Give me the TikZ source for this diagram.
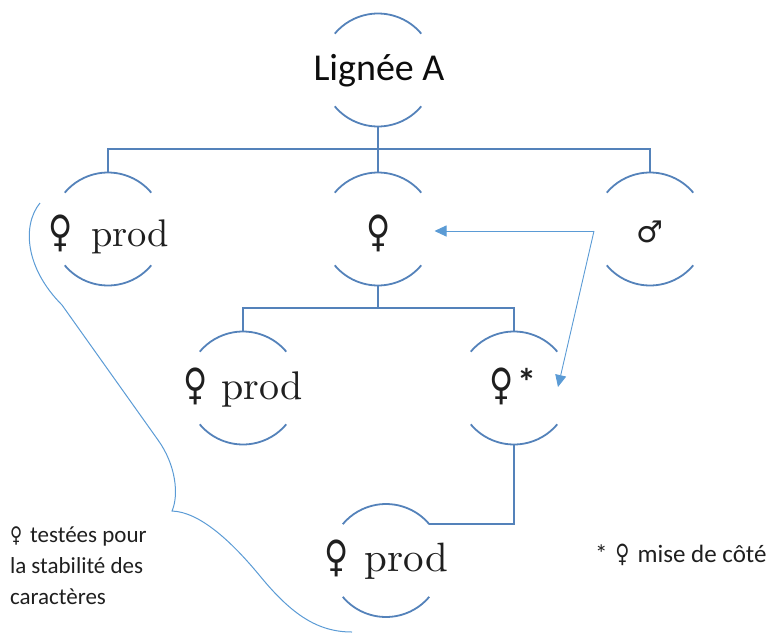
\documentclass[tikz,border=0pt]{standalone}
\usepackage{fontspec}
\newfontfamily\calfont{Carlito}
\newfontfamily\symfont{DejaVu Sans}
\newfontfamily\lmten{lmroman10-regular.otf}
\usetikzlibrary{arrows.meta,calc}
\definecolor{nodeblue}{RGB}{84,130,186}
\definecolor{arrblue}{RGB}{91,155,213}
\newcommand\hubarcs[1]{%
  \draw[arcs] (#1.40) arc[start angle=40,end angle=140,radius=56.5pt];
  \draw[arcs] (#1.220) arc[start angle=220,end angle=320,radius=56.5pt];}
\newcommand\fem[1]{\scalebox{0.92}[1.2]{\symfont\fontsize{#1}{#1}\selectfont ♀}}
\begin{document}
\begin{tikzpicture}[x=1pt,y=1pt,
  hub/.style={circle,draw=none,minimum size=113pt,inner sep=0pt,outer sep=0pt},
  arcs/.style={draw=nodeblue,line width=1.8pt},
  link/.style={draw=nodeblue,line width=1.8pt},
  lbl/.style={inner sep=0pt,outer sep=0pt,text=black!88},
  ptr/.style={draw=arrblue,line width=0.9pt,-{Triangle[length=12pt,width=11pt,fill=arrblue]}},
  bracestyle/.style={draw=arrblue,line width=1pt}
]
\useasboundingbox (0,0) rectangle (773,-634);

% hubs
\node[hub] (A)  at (378,-70)  {};
\node[hub] (B1) at (108,-229) {};
\node[hub] (B2) at (378,-229) {};
\node[hub] (B3) at (650,-229) {};
\node[hub] (C1) at (243,-388) {};
\node[hub] (C2) at (514,-388) {};
\node[hub] (D1) at (386,-560.5) {};
\hubarcs{A}\hubarcs{B1}\hubarcs{B2}\hubarcs{B3}\hubarcs{C1}\hubarcs{C2}\hubarcs{D1}

% labels
\node[lbl,anchor=base,text=black!95,font=\calfont\fontsize{38}{40}\selectfont] (At) at ($(A)+(1,-10)$) {Lignée A};
\node[lbl,anchor=base,font=\lmten\fontsize{38.5}{40}\selectfont] (B1t) at ($(B1)+(1,-17)$) {\fem{36}\hspace{18pt}prod};
\node[lbl,anchor=base] (B2t) at ($(B2)+(0.5,-17)$) {\fem{36}};
\node[lbl,anchor=base] (B3t) at ($(B3)+(0,-13)$) {{\symfont\fontsize{30}{30}\selectfont ♂}};
\node[lbl,anchor=base,font=\lmten\fontsize{40}{42}\selectfont] (C1t) at ($(C1)+(0,-11)$) {\fem{36}\hspace{14pt}prod};
\node[lbl,anchor=base] (C2t) at ($(C2)+(-1,-11)$) {\fem{36}\hspace{3pt}\raisebox{4pt}{\calfont\bfseries\fontsize{38}{38}\selectfont *}};
\node[lbl,anchor=base,font=\lmten\fontsize{41}{42}\selectfont] (D1t) at ($(D1)+(0.5,-10.5)$) {\fem{36}\hspace{16pt}prod};

% tree connectors
\draw[link] (A.south) -- (B2.north);
\draw[link] (A.south) -- ++(0,-22.5) -| (B1.north);
\draw[link] (A.south) -- ++(0,-22.5) -| (B3.north);
\draw[link] (B2.south) -- ++(0,-22.5) -| (C1.north);
\draw[link] (B2.south) -- ++(0,-22.5) -| (C2.north);
\draw[link] (C2.south) |- (D1.40);

% cross arrow
\coordinate (M) at (594,-231);
\coordinate (C2in) at (558,-387);
\draw[ptr] (M) -- (B2.east |- M);
\draw[ptr] (M) -- (C2in);

% brace
\draw[bracestyle] (40,-203) .. controls (22,-225) and (25,-268) .. (62,-305)
  -- (158,-440) .. controls (176,-465) and (179,-495) .. (172,-511)
  .. controls (200,-512) and (232,-542) .. (260,-576)
  .. controls (292,-615) and (318,-632) .. (352,-632);

% legends
\node[lbl,anchor=north west,align=left,font=\calfont\fontsize{23}{31}\selectfont] (leg)
  at (10,-527) {\fem{18}\hspace{8pt}testées pour\\la stabilité des\\caractères};
\node[lbl,anchor=base west,font=\calfont\fontsize{25}{28}\selectfont] (note)
  at (595,-562) {*\hspace{8pt}\fem{21}\hspace{8pt}mise de côté};
\end{tikzpicture}
\end{document}
